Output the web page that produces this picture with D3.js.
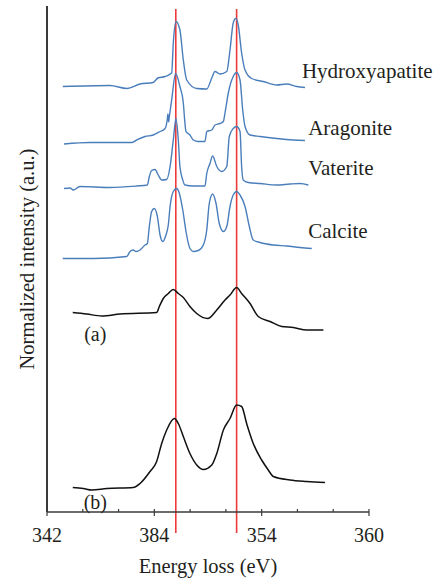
<!DOCTYPE html>
<html>
<head>
<meta charset="utf-8">
<script src="https://cdn.jsdelivr.net/npm/d3@7"></script>
<style>
  body { margin: 0; background: #fff; }
  svg text { font-family: "Liberation Serif", "Times New Roman", serif; fill: #231f20; }
</style>
</head>
<body>
<div id="container"></div>
<script>
let w = 437;
let h = 582;

// x ticks (the labels are as printed in the figure)
let minorTicks = [342, 344, 346, 348, 350, 352, 354, 356, 358, 360];
let majorTicks = [342, 348, 354, 360];
let majorTickLabels = ["342", "384", "354", "360"];

// reference peak energies (red lines)
let peakLines = [349.2, 352.6];

// spectra: [energy loss (eV), stacked normalized intensity]
let hydroxyapatite = [[342.88,85.1],[345.52,85.3],[346.47,84.7],[347.2,85.6],[347.93,85.9],[348.2,86.8],[348.6,87.1],[348.97,87.8],[349.06,93.8],[349.21,98.1],[349.43,96.4],[349.62,90.4],[349.81,86.4],[350.37,84.7],[350.93,84.6],[351.21,86.8],[351.39,88.1],[351.67,87.6],[352.05,88.1],[352.23,92.4],[352.41,97.8],[352.55,98.7],[352.69,97.4],[352.88,91.8],[353.07,88.4],[353.44,86.7],[354.09,86.1],[354.84,85.4],[355.4,85.6],[355.96,85.1],[356.42,84.9]];
let aragonite = [[342.95,73.6],[344.4,73.9],[346.73,73.9],[347.01,74.4],[347.48,75.1],[347.94,75.4],[348.32,76.1],[348.6,76.7],[348.72,78.4],[348.76,79.6],[348.8,78.0],[348.84,79.1],[348.97,82.4],[349.19,87.7],[349.43,85.1],[349.62,81.8],[349.68,79.1],[349.77,76.1],[349.99,75.4],[350.18,74.4],[350.46,74.1],[350.83,74.1],[350.93,76.1],[351.21,76.4],[351.39,77.4],[351.67,77.7],[351.86,78.1],[351.95,79.8],[352.01,81.1],[352.13,83.7],[352.41,87.1],[352.6,87.9],[352.79,86.4],[352.94,80.4],[353.07,77.1],[353.35,75.4],[353.91,75.1],[354.84,74.7],[355.77,74.4],[356.42,74.3]];
let vaterite = [[342.95,64.7],[343.29,64.8],[343.47,64.4],[343.84,65.1],[345.52,64.9],[347.01,65.2],[347.61,65.4],[347.72,67.1],[347.85,68.3],[348.04,68.5],[348.22,67.4],[348.41,66.4],[348.69,66.5],[348.88,69.1],[349.06,74.4],[349.21,78.7],[349.34,74.4],[349.43,69.1],[349.59,66.4],[349.71,65.4],[350.18,65.2],[350.83,65.2],[350.93,67.7],[351.11,69.7],[351.26,71.2],[351.49,69.1],[351.77,68.1],[352.05,69.1],[352.19,75.1],[352.41,76.7],[352.6,77.1],[352.79,76.1],[352.88,69.1],[352.97,66.4],[353.25,65.9],[353.91,65.7],[354.84,65.4],[355.58,65.6],[356.14,65.7],[356.61,65.4]];
let calcite = [[342.88,50.7],[344.59,50.7],[346.46,51.1],[346.64,52.1],[346.82,52.4],[346.98,52.1],[347.2,52.4],[347.48,53.4],[347.61,53.7],[347.72,57.1],[347.85,60.1],[348.0,60.7],[348.17,59.1],[348.32,55.4],[348.47,54.1],[348.65,55.4],[348.78,57.4],[348.88,61.1],[349.06,64.1],[349.25,64.7],[349.4,63.7],[349.59,60.4],[349.77,56.1],[349.99,52.7],[350.18,52.1],[350.46,52.3],[350.74,53.4],[350.93,56.4],[351.07,61.7],[351.26,63.6],[351.45,61.7],[351.63,57.7],[351.86,56.1],[352.05,57.1],[352.23,61.1],[352.41,63.4],[352.6,64.1],[352.79,63.4],[353.07,61.1],[353.31,57.1],[353.53,54.4],[353.91,53.9],[354.65,53.4],[355.4,53.2],[356.14,52.9],[356.8,52.7]];
let spectrumA = [[343.44,39.9],[344.22,39.6],[345.06,39.2],[346.08,39.6],[348.13,39.9],[348.28,41.1],[348.5,42.7],[348.78,43.7],[349.06,44.5],[349.34,43.7],[349.62,42.9],[349.99,41.1],[350.37,39.7],[350.98,38.7],[351.49,40.4],[351.95,42.4],[352.23,43.4],[352.6,44.9],[352.88,43.7],[353.35,41.7],[353.81,39.1],[354.47,38.1],[355.12,37.1],[355.77,36.9],[356.52,36.4],[357.45,36.4]];
let spectrumB = [[343.44,4.9],[344.03,4.7],[344.5,4.4],[345.34,4.7],[346.82,4.9],[347.2,5.7],[347.76,8.1],[348.13,10.1],[348.41,13.7],[348.69,16.4],[349.12,18.7],[349.34,17.7],[349.62,15.1],[349.99,11.7],[350.37,9.4],[350.74,8.5],[351.21,9.4],[351.49,11.7],[351.86,16.4],[352.23,18.7],[352.6,21.4],[352.88,21.1],[353.16,17.7],[353.53,13.7],[354.0,10.4],[354.37,8.4],[354.65,7.1],[355.58,6.4],[356.52,6.1],[357.54,5.9]];

let referenceSpectra = [hydroxyapatite, aragonite, vaterite, calcite];
let referenceNames = ["Hydroxyapatite", "Aragonite", "Vaterite", "Calcite"];
let sampleSpectra = [spectrumA, spectrumB];
let sampleNames = ["(a)", "(b)"];

let viz = d3.select("#container")
  .append("svg")
    .attr("width", w)
    .attr("height", h)
;

let xScale = d3.scaleLinear().domain([342, 360]).range([47, 369]);
let yScale = d3.scaleLinear().domain([0, 101.4]).range([512, 5]);

let line = d3.line()
  .x(function(d){ return xScale(d[0]); })
  .y(function(d){ return yScale(d[1]); })
  .curve(d3.curveMonotoneX);

// red reference lines
viz.selectAll(".peak").data(peakLines).enter()
  .append("line")
    .attr("class", "peak")
    .attr("x1", function(d){ return xScale(d); })
    .attr("x2", function(d){ return xScale(d); })
    .attr("y1", yScale(100.6))
    .attr("y2", yScale(0) + 21)
    .attr("stroke", "#ee3a3a")
    .attr("stroke-width", 1.6)
;

// reference spectra (blue)
viz.selectAll(".ref").data(referenceSpectra).enter()
  .append("path")
    .attr("class", "ref")
    .attr("d", line)
    .attr("fill", "none")
    .attr("stroke", "#4a7ebb")
    .attr("stroke-width", 1.4)
    .attr("stroke-linejoin", "round")
;

// sample spectra (black)
viz.selectAll(".sample").data(sampleSpectra).enter()
  .append("path")
    .attr("class", "sample")
    .attr("d", line)
    .attr("fill", "none")
    .attr("stroke", "#111")
    .attr("stroke-width", 1.5)
    .attr("stroke-linejoin", "round")
;

// y axis (plain line, no ticks)
viz.append("line")
  .attr("x1", xScale(342)).attr("x2", xScale(342))
  .attr("y1", yScale(101.2)).attr("y2", yScale(0))
  .attr("stroke", "#3a3a3a")
  .attr("stroke-width", 2);

// x axis
let xAxisGroup = viz.append("g").attr("class", "xaxis")
  .attr("transform", "translate(0, " + yScale(0) + ")");
xAxisGroup.append("line")
  .attr("x1", xScale(342)).attr("x2", xScale(360))
  .attr("stroke", "#3a3a3a").attr("stroke-width", 1.6);
xAxisGroup.selectAll(".minor").data(minorTicks).enter()
  .append("line")
    .attr("x1", function(d){ return xScale(d); })
    .attr("x2", function(d){ return xScale(d); })
    .attr("y1", -3).attr("y2", 0)
    .attr("stroke", "#3a3a3a").attr("stroke-width", 1.2);
xAxisGroup.selectAll(".major").data(majorTicks).enter()
  .append("line")
    .attr("x1", function(d){ return xScale(d); })
    .attr("x2", function(d){ return xScale(d); })
    .attr("y1", 0).attr("y2", 4)
    .attr("stroke", "#3a3a3a").attr("stroke-width", 1.2);
xAxisGroup.selectAll(".ticklabel").data(majorTicks).enter()
  .append("text")
    .attr("x", function(d){ return xScale(d); })
    .attr("y", 30)
    .attr("text-anchor", "middle")
    .attr("font-size", 20)
    .text(function(d, i){ return majorTickLabels[i]; });

// axis titles
viz.append("text")
  .attr("x", 208).attr("y", 573)
  .attr("text-anchor", "middle")
  .attr("font-size", 20.5)
  .text("Energy loss (eV)");
viz.append("text")
  .attr("transform", "translate(34, 259) rotate(-90)")
  .attr("text-anchor", "middle")
  .attr("font-size", 20.5)
  .text("Normalized intensity (a.u.)");

// series labels
let refLabelPos = [[356.25, 86.9], [356.6, 75.4], [356.6, 67.4], [356.6, 54.9]];
viz.selectAll(".reflabel").data(referenceNames).enter()
  .append("text")
    .attr("x", function(d, i){ return xScale(refLabelPos[i][0]); })
    .attr("y", function(d, i){ return yScale(refLabelPos[i][1]); })
    .attr("font-size", 21)
    .text(function(d){ return d; });

let sampleLabelPos = [[344.7, 34.2], [344.7, 0.6]];
viz.selectAll(".samplelabel").data(sampleNames).enter()
  .append("text")
    .attr("x", function(d, i){ return xScale(sampleLabelPos[i][0]); })
    .attr("y", function(d, i){ return yScale(sampleLabelPos[i][1]); })
    .attr("text-anchor", "middle")
    .attr("font-size", 20)
    .text(function(d){ return d; });
</script>
</body>
</html>
